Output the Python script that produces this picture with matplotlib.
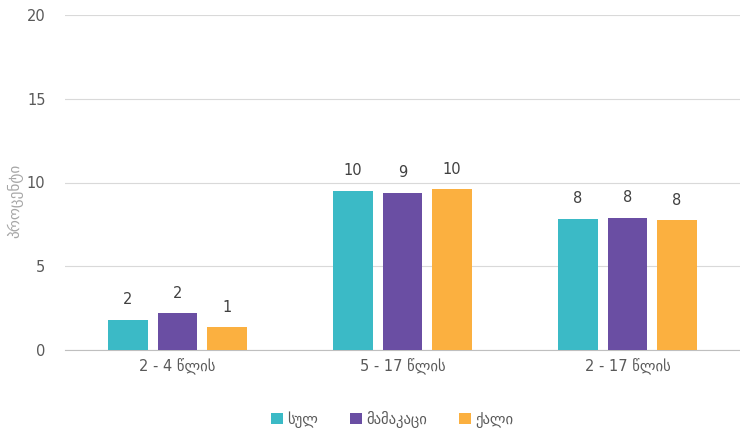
import matplotlib.pyplot as plt
import numpy as np

plt.rcParams['font.family'] = ['DejaVu Sans']

# Data
categories = ['2 - 4 წლის', '5 - 17 წლის', '2 - 17 წლის']
series_names = ['სულ', 'მამაკაცი', 'ქალი']
total = [1.8, 9.5, 7.85]
male = [2.2, 9.4, 7.9]
female = [1.35, 9.6, 7.75]
total_labels = ['2', '10', '8']
male_labels = ['2', '9', '8']
female_labels = ['1', '10', '8']

colors = ['#3BBAC6', '#6A4EA3', '#FBB040']
text_grey = '#595959'

fig = plt.figure(figsize=(740/100, 430/100), dpi=100)
ax = fig.add_axes([65/740, 80/430, 675/740, 335/430])

x = np.arange(len(categories))
width = 0.176
step = 0.22
values = [total, male, female]
labels = [total_labels, male_labels, female_labels]
for i, (vals, labs, name, col) in enumerate(zip(values, labels, series_names, colors)):
    pos = x + (i - 1) * step
    bars = ax.bar(pos, vals, width, color=col, label=name, zorder=3)
    for b, lab in zip(bars, labs):
        ax.text(b.get_x() + b.get_width() / 2, b.get_height() + 0.75, lab,
                ha='center', va='bottom', fontsize=10.5, color='#404040')

ax.set_xlim(-0.5, 2.5)
ax.set_ylim(0, 20)
ax.set_yticks([0, 5, 10, 15, 20])
ax.set_xticks(x)
ax.set_xticklabels(categories)
ax.grid(axis='y', color='#D9D9D9', linewidth=0.8, zorder=0)
for s in ['top', 'right', 'left']:
    ax.spines[s].set_visible(False)
ax.spines['bottom'].set_color('#BFBFBF')
ax.tick_params(axis='both', length=0, labelsize=10.5, colors=text_grey)
ax.tick_params(axis='y', pad=14)
ax.tick_params(axis='x', pad=6)
ax.set_ylabel('პროცენტი', fontsize=11, color='#A6A6A6')
ax.yaxis.set_label_coords(-0.062, 0.445)

fig.legend(loc='lower center', bbox_to_anchor=(0.53, -0.025), ncol=3, frameon=False,
           fontsize=10.5, handlelength=0.8, handleheight=0.8, handletextpad=0.3,
           columnspacing=2.2, labelcolor=text_grey)

fig.savefig('out.png', dpi=100, facecolor='white')
